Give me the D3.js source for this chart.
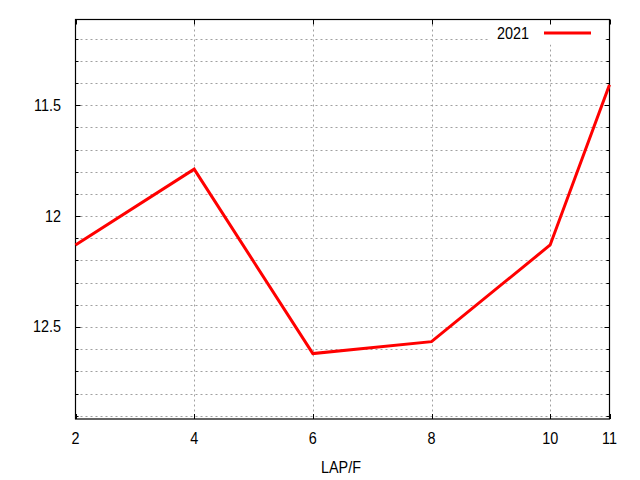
<!DOCTYPE html>
<html><head><meta charset="utf-8">
<script src="https://cdn.jsdelivr.net/npm/d3@7"></script>
<style>body{margin:0;background:#fff}svg{display:block}text{font-family:"Liberation Sans",Arial,sans-serif;font-size:16px;fill:#000}</style>
</head><body>
<script>
const laps = [2, 4, 6, 8, 10, 11];
const values2021 = [12.13, 11.788, 12.62, 12.566, 12.13, 11.407];
const seriesName = "2021";
const xTicks = [2, 4, 6, 8, 10, 11];
const yMajorTicks = [11.5, 12, 12.5];
const yMinorTicks = [11.2, 11.3, 11.4, 11.5, 11.6, 11.7, 11.8, 11.9, 12, 12.1, 12.2, 12.3, 12.4, 12.5, 12.6, 12.7, 12.8, 12.9];
const xLabel = "LAP/F";

const W = 640, H = 480;
const L = 75.5, R = 609.5, T = 19.5, B = 419;
const svg = d3.select("body").append("svg").attr("width", W).attr("height", H);
const x = d3.scaleLinear().domain([2, 11]).range([L, R]);
const y = d3.scaleLinear().domain([11.113, 12.915]).range([T, B]);

function txt(px, py, s, anchor) {
  return svg.append("text").attr("transform", `translate(${px},${py}) scale(0.9,1)`)
    .attr("text-anchor", anchor).text(s);
}

// grid
const g = svg.append("g").attr("stroke", "#a0a0a0").attr("stroke-width", 1).attr("stroke-dasharray", "2,3");
g.selectAll("line.h").data(yMinorTicks).join("line")
  .attr("x1", L).attr("x2", R).attr("y1", d => Math.round(y(d)) + 0.5).attr("y2", d => Math.round(y(d)) + 0.5);
g.selectAll("line.v").data(xTicks.filter(d => d > 2 && d < 11)).join("line")
  .attr("y1", T).attr("y2", B).attr("x1", d => Math.round(x(d)) + 0.5).attr("x2", d => Math.round(x(d)) + 0.5);

// legend background
svg.append("rect").attr("x", 490).attr("y", T + 1).attr("width", 113).attr("height", 24).attr("fill", "#fff");

// ticks
const tk = svg.append("g").attr("stroke", "#000").attr("stroke-width", 1);
yMinorTicks.forEach(d => {
  const yy = Math.round(y(d)) + 0.5;
  const len = yMajorTicks.includes(d) ? 5 : 3;
  tk.append("line").attr("x1", L).attr("x2", L + len).attr("y1", yy).attr("y2", yy);
  tk.append("line").attr("x1", R).attr("x2", R - len).attr("y1", yy).attr("y2", yy);
});
xTicks.forEach(d => {
  const xx = Math.round(x(d)) + 0.5;
  tk.append("line").attr("x1", xx).attr("x2", xx).attr("y1", B).attr("y2", B - 5);
  tk.append("line").attr("x1", xx).attr("x2", xx).attr("y1", T).attr("y2", T + 5);
});

// frame
svg.append("rect").attr("x", L).attr("y", T).attr("width", R - L).attr("height", B - T)
  .attr("fill", "none").attr("stroke", "#000").attr("stroke-width", 1.2);

// labels
yMajorTicks.forEach(d => txt(61, y(d) + 5.5, d, "end"));
xTicks.forEach(d => txt(x(d), 443.5, d, "middle"));
txt(341, 472.5, xLabel, "middle");

// line
const line = d3.line().x((d, i) => x(laps[i])).y(d => y(d));
svg.append("path").datum(values2021).attr("d", line).attr("fill", "none")
  .attr("stroke", "#ff0000").attr("stroke-width", 3).attr("stroke-linejoin", "miter");

// legend
txt(529, 39, seriesName, "end");
svg.append("line").attr("x1", 544).attr("x2", 591).attr("y1", 33).attr("y2", 33)
  .attr("stroke", "#ff0000").attr("stroke-width", 3);
</script>
</body></html>
